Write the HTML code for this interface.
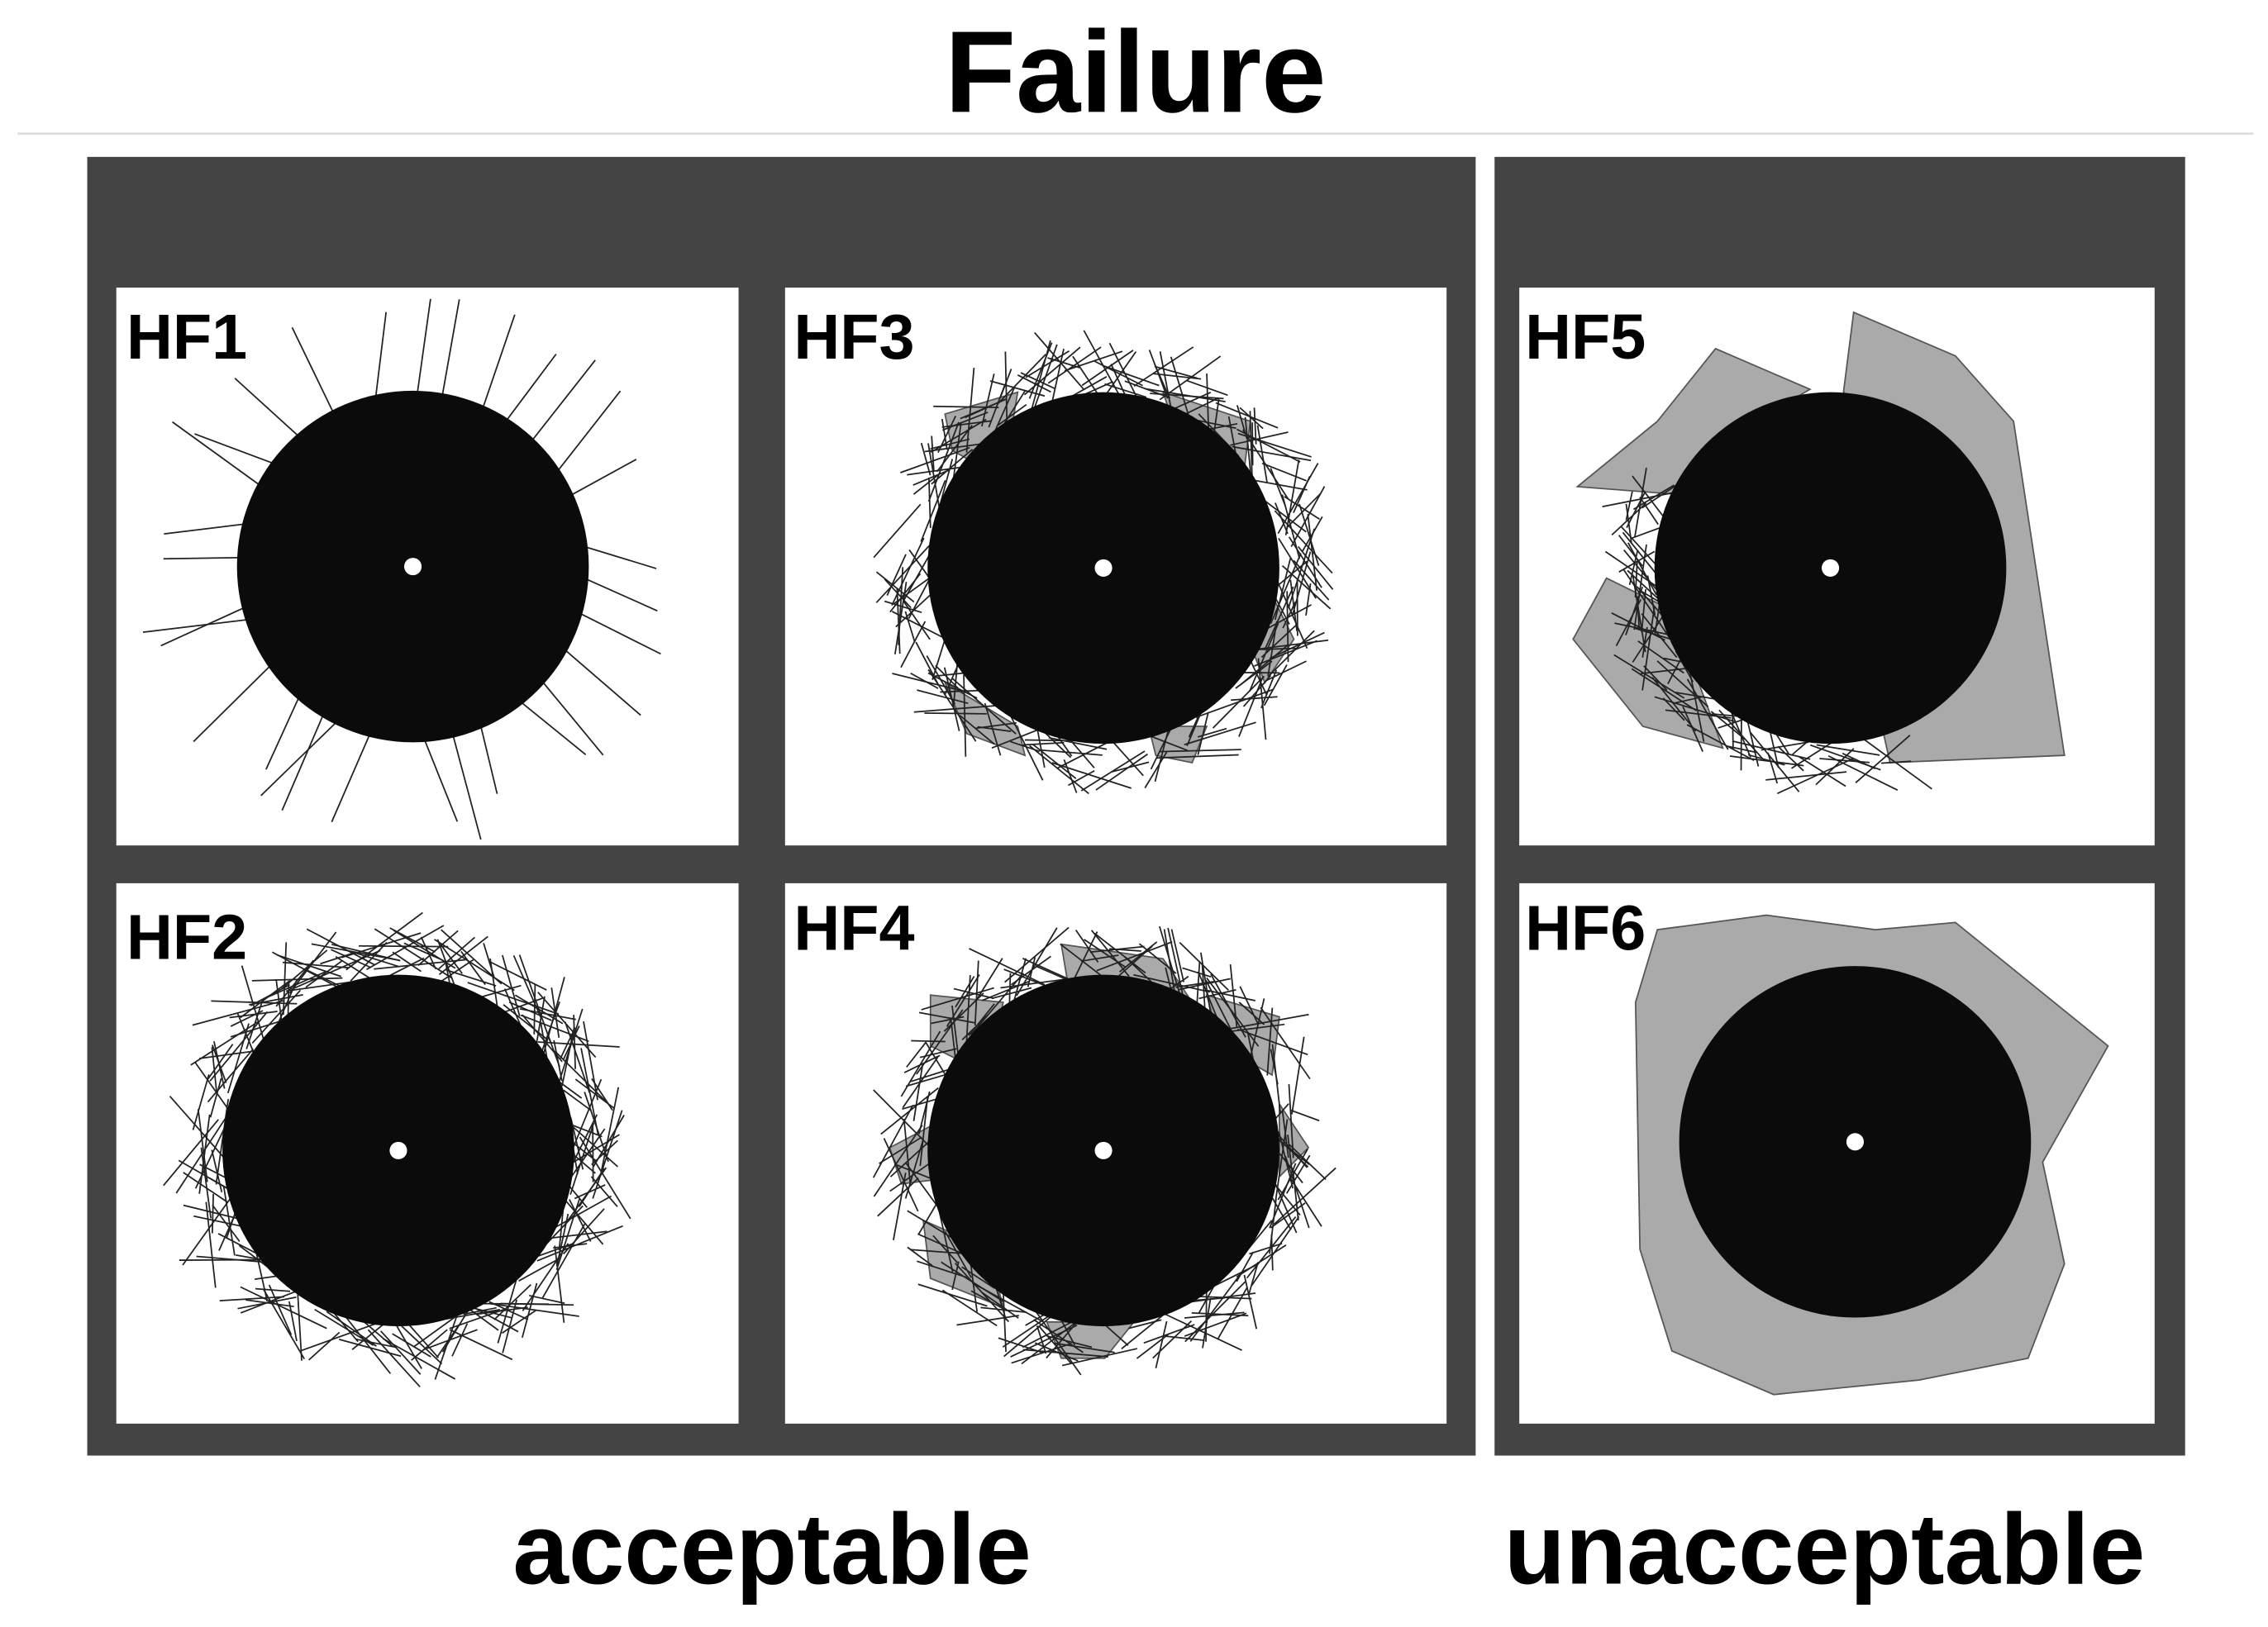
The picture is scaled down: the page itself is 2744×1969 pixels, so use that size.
<!DOCTYPE html>
<html><head><meta charset="utf-8"><style>
html,body{margin:0;padding:0;background:#fff;width:2744px;height:1969px;overflow:hidden}
svg{display:block}
text{font-family:"Liberation Sans",Arial,sans-serif;font-weight:bold;fill:#000}
</style></head><body>
<svg id="s" width="2744" height="1969" viewBox="0 0 1560 1120" preserveAspectRatio="none" xmlns="http://www.w3.org/2000/svg">
<text x="781" y="77" font-size="80" text-anchor="middle">Failure</text>
<line x1="12" y1="92" x2="1550" y2="92" stroke="#ddd" stroke-width="1.5"/>
<rect x="60" y="108" width="955" height="894" fill="#444"/>
<rect x="1028" y="108" width="475" height="894" fill="#444"/>
<rect x="80" y="198" width="428" height="384" fill="#fff"/>
<rect x="540" y="198" width="455" height="384" fill="#fff"/>
<rect x="1045" y="198" width="437" height="384" fill="#fff"/>
<rect x="80" y="608" width="428" height="372" fill="#fff"/>
<rect x="540" y="608" width="455" height="372" fill="#fff"/>
<rect x="1045" y="608" width="437" height="372" fill="#fff"/>
<g fill="#aaa" stroke="#555" stroke-width="1">
<polygon points="1275,215 1345,245 1385,290 1420,520 1300,525 1290,480 1360,400 1300,300 1268,270"/>
<polygon points="1180,240 1245,268 1190,300 1150,340 1085,335 1140,290"/>
<polygon points="1105,398 1150,420 1185,515 1130,500 1082,440"/>
<polygon points="1140,640 1215,630 1290,640 1345,635 1450,720 1405,800 1420,870 1395,935 1320,950 1220,960 1150,930 1128,860 1125,690"/>
<polygon points="650,285 700,270 690,330 655,310"/>
<polygon points="800,270 860,290 855,330 810,300"/>
<polygon points="870,400 890,440 870,470 855,430"/>
<polygon points="650,470 700,500 705,520 665,505"/>
<polygon points="790,500 830,500 820,525 795,520"/>
<polygon points="640,685 690,690 680,740 640,720"/>
<polygon points="730,650 800,660 820,690 735,680"/>
<polygon points="830,685 880,700 875,740 840,720"/>
<polygon points="612,790 650,770 660,810 620,815"/>
<polygon points="635,840 680,860 690,900 640,880"/>
<polygon points="720,910 780,910 760,935 730,935"/>
<polygon points="880,760 900,790 880,810"/>
</g>
<g id="hairs" stroke="#222" stroke-width="1" fill="none"></g>
<g fill="#0b0b0b">
<circle cx="284" cy="390" r="121"/><circle cx="759" cy="391" r="121"/><circle cx="1259" cy="391" r="121"/>
<circle cx="274" cy="792" r="121"/><circle cx="759" cy="792" r="121"/><circle cx="1276" cy="786" r="121"/>
</g>
<g fill="#fff">
<circle cx="284" cy="390" r="6"/><circle cx="759" cy="391" r="6"/><circle cx="1259" cy="391" r="6"/>
<circle cx="274" cy="792" r="6"/><circle cx="759" cy="792" r="6"/><circle cx="1276" cy="786" r="6"/>
</g>
<g font-size="44">
<text x="87" y="247">HF1</text><text x="546" y="247">HF3</text><text x="1049" y="247">HF5</text>
<text x="87" y="660">HF2</text><text x="546" y="654">HF4</text><text x="1049" y="654">HF6</text>
</g>
<text x="531" y="1090" font-size="69" text-anchor="middle">acceptable</text>
<text x="1255" y="1090" font-size="69" text-anchor="middle">unacceptable</text>
</svg>
<script>
(function(){
var seed=7;function r(){seed=(seed*16807)%2147483647;return seed/2147483647;}
var g=document.getElementById('hairs');var ns='http://www.w3.org/2000/svg';
function line(x1,y1,x2,y2){var l=document.createElementNS(ns,'line');
 l.setAttribute('x1',x1);l.setAttribute('y1',y1);l.setAttribute('x2',x2);l.setAttribute('y2',y2);g.appendChild(l);}
function hairs(cx,cy,n,ext,len,a0,a1){
 for(var i=0;i<n;i++){
  var a=a0+(a1-a0)*r();var d=121+r()*ext;var px=cx+Math.cos(a)*d,py=cy+Math.sin(a)*d;
  var t=a+Math.PI/2+(r()-0.5)*2.2;var L=len*(0.5+r());
  line(px-Math.cos(t)*L/2,py-Math.sin(t)*L/2,px+Math.cos(t)*L/2,py+Math.sin(t)*L/2);
 }
}
function radial(cx,cy,n){
 for(var i=0;i<n;i++){
  var a=(i+r()*0.6)/n*Math.PI*2;var t=a+(r()-0.5)*1.0;
  var d1=100,d2=121+25+r()*30;
  var px=cx+Math.cos(a)*d1,py=cy+Math.sin(a)*d1;
  var L=d2-d1+20;
  line(px,py,px+Math.cos(t)*L,py+Math.sin(t)*L);
 }
}
var T=Math.PI*2;
radial(284,390,30);
hairs(274,792,230,25,45,0,T);
hairs(759,391,220,25,40,0,T);
hairs(759,792,200,25,40,0,T);
hairs(1259,391,90,25,40,1.2,3.6);
})();
</script>
</body></html>
